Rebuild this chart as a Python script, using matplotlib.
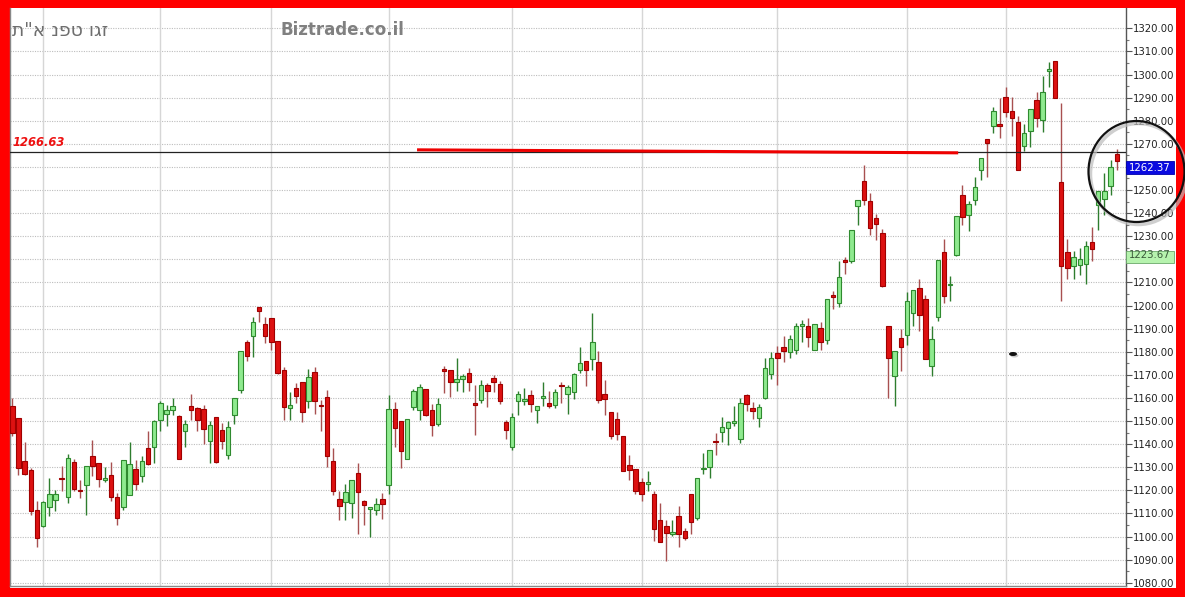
import matplotlib
matplotlib.use("Agg")
import matplotlib.pyplot as plt
import matplotlib.patches as mpatches
import matplotlib.transforms as mtransforms
import numpy as np

# ---------------- data ----------------
opens = [1156.3, 1151.3, 1132.7, 1129.0, 1111.4, 1104.5, 1112.8, 1115.8, 1125.5, 1117.0,
         1132.3, 1120.2, 1122.5, 1134.9, 1132.0, 1124.3, 1126.6, 1117.1, 1112.7, 1118.1,
         1129.2, 1126.1, 1138.2, 1138.7, 1150.6, 1153.2, 1154.6, 1152.3, 1145.5, 1156.6,
         1155.6, 1155.2, 1141.2, 1151.7, 1146.2, 1135.1, 1152.7, 1163.5, 1184.1, 1187.0,
         1199.3, 1192.1, 1194.4, 1184.7, 1172.0, 1155.5, 1164.3, 1167.0, 1158.5, 1171.3,
         1157.0, 1160.2, 1132.5, 1116.3, 1114.8, 1114.5, 1127.5, 1115.5, 1112.0, 1111.4,
         1116.3, 1122.2, 1155.2, 1149.9, 1133.6, 1156.0, 1154.9, 1163.8, 1154.9, 1148.8,
         1172.6, 1172.2, 1167.1, 1168.2, 1170.7, 1157.8, 1159.2, 1165.6, 1168.6, 1166.0,
         1149.4, 1138.6, 1158.5, 1158.8, 1161.4, 1154.6, 1160.0, 1157.8, 1157.1, 1165.6,
         1161.7, 1162.4, 1171.9, 1175.8, 1176.8, 1175.5, 1161.7, 1153.9, 1150.9, 1143.4,
         1131.1, 1129.2, 1123.5, 1122.9, 1118.6, 1107.3, 1104.5, 1101.2, 1108.8, 1102.4,
         1118.2, 1108.1, 1129.2, 1130.2, 1141.4, 1145.2, 1147.1, 1149.2, 1142.3, 1161.1,
         1155.8, 1151.4, 1160.0, 1170.5, 1179.5, 1182.1, 1180.0, 1180.6, 1191.3, 1191.0,
         1180.9, 1190.3, 1185.0, 1204.7, 1201.1, 1219.8, 1219.4, 1243.2, 1254.1, 1245.1,
         1237.9, 1231.3, 1191.3, 1169.7, 1186.0, 1187.4, 1196.8, 1207.6, 1202.8, 1173.7,
         1195.0, 1223.0, 1208.8, 1222.0, 1247.9, 1239.3, 1245.5, 1258.7, 1272.0, 1277.8,
         1278.6, 1290.1, 1284.0, 1279.6, 1269.1, 1275.6, 1289.0, 1280.3, 1301.4, 1306.0,
         1253.3, 1223.0, 1217.2, 1217.6, 1217.9, 1227.5, 1243.6, 1246.1, 1251.6, 1265.7]
highs = [1160.0, 1151.5, 1140.9, 1129.5, 1115.5, 1115.3, 1125.2, 1120.3, 1130.4, 1135.7,
         1133.6, 1124.6, 1130.4, 1141.8, 1132.0, 1130.1, 1132.3, 1118.9, 1133.1, 1140.9,
         1133.0, 1134.7, 1145.5, 1150.6, 1158.5, 1157.0, 1160.0, 1152.5, 1150.6, 1161.7,
         1156.2, 1157.0, 1149.8, 1151.8, 1149.1, 1149.8, 1160.0, 1180.5, 1185.2, 1195.2,
         1199.5, 1195.0, 1194.5, 1184.8, 1173.2, 1162.4, 1166.4, 1167.0, 1172.5, 1173.6,
         1159.2, 1163.5, 1138.2, 1119.9, 1122.9, 1124.3, 1131.8, 1115.6, 1112.9, 1116.7,
         1118.9, 1161.4, 1158.4, 1150.0, 1151.0, 1163.8, 1166.1, 1163.9, 1157.3, 1159.9,
         1173.9, 1172.3, 1177.2, 1170.5, 1172.9, 1165.7, 1167.9, 1166.4, 1170.0, 1167.4,
         1150.6, 1153.5, 1162.8, 1164.3, 1163.3, 1156.3, 1166.9, 1162.8, 1163.8, 1167.1,
         1165.7, 1171.0, 1182.0, 1175.8, 1196.7, 1180.4, 1167.9, 1153.9, 1153.7, 1143.5,
         1135.2, 1129.3, 1125.4, 1128.5, 1119.6, 1114.3, 1107.3, 1107.3, 1113.1, 1103.7,
         1118.2, 1125.4, 1136.2, 1137.3, 1144.9, 1151.8, 1150.0, 1156.7, 1160.0, 1161.5,
         1158.3, 1157.2, 1177.4, 1179.8, 1182.4, 1186.7, 1187.4, 1192.5, 1193.9, 1194.6,
         1192.2, 1192.7, 1203.0, 1206.2, 1219.4, 1221.0, 1232.8, 1245.5, 1260.8, 1248.6,
         1239.7, 1233.1, 1191.3, 1180.5, 1189.9, 1205.7, 1206.9, 1211.5, 1204.7, 1191.0,
         1219.5, 1228.8, 1212.6, 1238.9, 1252.3, 1245.1, 1255.6, 1263.8, 1272.0, 1286.1,
         1289.7, 1294.5, 1290.1, 1282.1, 1278.6, 1285.0, 1292.6, 1299.3, 1305.5, 1306.0,
         1287.8, 1228.8, 1223.4, 1224.9, 1227.8, 1234.0, 1249.4, 1257.3, 1262.8, 1267.7]
lows = [1143.4, 1126.8, 1126.5, 1109.5, 1095.4, 1104.0, 1108.8, 1110.9, 1119.6, 1114.5,
        1119.6, 1116.7, 1109.4, 1126.1, 1121.5, 1123.5, 1115.5, 1105.2, 1111.4, 1118.0,
        1120.0, 1123.5, 1130.8, 1131.8, 1145.5, 1148.0, 1152.7, 1133.5, 1138.7, 1150.3,
        1145.5, 1140.2, 1131.8, 1132.0, 1137.9, 1133.7, 1148.8, 1162.0, 1175.8, 1177.7,
        1192.8, 1183.7, 1180.8, 1170.5, 1150.3, 1150.6, 1157.8, 1149.4, 1155.6, 1153.2,
        1145.5, 1130.0, 1118.1, 1107.3, 1107.0, 1108.0, 1101.1, 1105.2, 1099.7, 1109.2,
        1107.6, 1118.6, 1138.8, 1129.7, 1133.5, 1154.6, 1150.6, 1152.3, 1143.4, 1148.0,
        1162.1, 1160.2, 1162.8, 1162.4, 1162.8, 1144.1, 1158.0, 1156.0, 1162.4, 1157.3,
        1142.2, 1137.6, 1152.7, 1157.1, 1153.7, 1149.1, 1156.3, 1155.6, 1155.6, 1157.8,
        1153.2, 1159.5, 1171.0, 1165.3, 1172.2, 1157.8, 1152.7, 1142.2, 1141.9, 1128.2,
        1124.6, 1118.2, 1115.3, 1119.6, 1098.0, 1097.5, 1089.3, 1100.1, 1095.5, 1098.7,
        1100.9, 1107.3, 1127.2, 1125.2, 1135.1, 1140.9, 1139.8, 1147.8, 1140.3, 1154.3,
        1151.0, 1147.5, 1159.6, 1168.2, 1165.8, 1175.5, 1177.4, 1179.2, 1184.1, 1182.1,
        1180.9, 1180.9, 1183.5, 1198.3, 1199.4, 1213.7, 1218.4, 1235.0, 1243.6, 1230.7,
        1228.2, 1208.2, 1160.0, 1156.7, 1171.6, 1183.1, 1191.3, 1188.9, 1176.8, 1169.7,
        1193.2, 1201.0, 1201.8, 1221.6, 1235.0, 1232.1, 1243.6, 1254.4, 1255.8, 1274.9,
        1272.4, 1281.5, 1273.2, 1258.6, 1267.1, 1268.8, 1277.2, 1275.2, 1294.8, 1289.7,
        1201.8, 1211.5, 1211.5, 1213.3, 1209.5, 1219.1, 1232.8, 1239.3, 1248.0, 1258.7]
closes = [1144.8, 1129.7, 1127.1, 1110.9, 1099.3, 1114.8, 1118.6, 1118.4, 1124.9, 1134.0,
          1120.6, 1119.7, 1130.4, 1130.5, 1124.8, 1125.3, 1117.1, 1108.0, 1133.1, 1131.4,
          1122.9, 1132.7, 1131.3, 1150.0, 1157.8, 1154.9, 1156.6, 1133.6, 1148.8, 1154.9,
          1150.3, 1146.5, 1148.3, 1132.1, 1141.2, 1147.4, 1159.9, 1180.1, 1178.0, 1192.8,
          1197.5, 1187.0, 1184.4, 1170.7, 1155.9, 1156.9, 1160.7, 1153.7, 1169.0, 1158.8,
          1156.6, 1135.0, 1119.6, 1113.1, 1119.1, 1124.3, 1119.3, 1113.8, 1112.8, 1114.1,
          1114.2, 1155.3, 1147.0, 1136.9, 1150.9, 1162.8, 1164.7, 1152.7, 1148.4, 1157.3,
          1171.6, 1166.7, 1168.3, 1169.6, 1166.7, 1157.1, 1165.4, 1162.8, 1167.0, 1158.5,
          1146.3, 1151.7, 1161.7, 1159.2, 1157.5, 1156.3, 1161.0, 1156.3, 1162.5, 1165.0,
          1164.7, 1170.2, 1175.1, 1171.9, 1184.0, 1158.9, 1159.7, 1143.4, 1144.5, 1128.5,
          1129.0, 1119.6, 1118.6, 1123.7, 1103.3, 1097.6, 1101.6, 1102.0, 1101.2, 1099.4,
          1106.3, 1125.4, 1129.8, 1137.3, 1140.8, 1147.5, 1149.6, 1150.2, 1157.9, 1157.5,
          1154.4, 1156.0, 1173.0, 1177.2, 1177.3, 1180.2, 1185.3, 1191.0, 1192.1, 1186.3,
          1192.2, 1184.2, 1202.9, 1203.7, 1212.2, 1218.7, 1232.8, 1245.5, 1245.5, 1233.5,
          1235.4, 1208.3, 1177.3, 1180.5, 1182.1, 1201.8, 1206.9, 1196.1, 1176.9, 1185.3,
          1219.5, 1204.3, 1209.2, 1238.9, 1238.5, 1244.0, 1251.5, 1263.8, 1270.5, 1284.3,
          1277.8, 1283.9, 1281.3, 1258.7, 1274.6, 1285.0, 1281.3, 1292.6, 1302.2, 1289.7,
          1217.2, 1216.2, 1221.2, 1220.1, 1225.6, 1224.5, 1249.4, 1249.4, 1259.9, 1262.37]

month_starts = [5, 24, 42, 61, 81, 102, 124, 145, 161]      # vertical grid (session index)
y_ticks = list(range(1080, 1321, 10))
ref_level = 1266.63            # horizontal reference line
trend_start, trend_end = (65.6, 1267.4), (153.3, 1266.1)   # hand-drawn red line (index, value)
last_price = 1262.37
other_level = 1223.67
title_text = 'ת"א נפט וגז'
site_text = "Biztrade.co.il"

# ---------------- figure ----------------
W, H = 1185, 597
fig = plt.figure(figsize=(W / 100, H / 100), dpi=100, facecolor="#ff0000")

def fx(px):
    return px / W

def fy(py):
    return 1 - py / H

# white panel inside red frame
fig.patches.append(mpatches.Rectangle((fx(10), fy(588)), fx(1176) - fx(10), fy(8) - fy(588),
                                      transform=fig.transFigure, facecolor="white",
                                      edgecolor="none", zorder=-5))

ax = fig.add_axes([fx(10), fy(585.5), fx(1125.7) - fx(10), fy(8) - fy(585.5)])
ax.set_facecolor("white")
ax.set_zorder(1)

n = len(opens)
x = np.arange(n)
o = np.array(opens); h = np.array(highs); l = np.array(lows); c = np.array(closes)
up = c >= o

ax.set_xlim(-0.37, 180.45)
ax.set_ylim(1078.8, 1328.8)

# grid
for yt in y_ticks:
    ax.axhline(yt, color="#bdbdbd", lw=0.8, ls=(0, (1, 1.2)), zorder=0.5)
for ms in month_starts:
    ax.axvline(ms, color="#d6d6d6", lw=1.0, zorder=0.5)

# wicks
wick_cols = np.where(up, "#2e7d2e", "#a85050")
ax.vlines(x, l, h, colors=list(wick_cols), lw=1.0, zorder=2)

# bodies
bottoms = np.minimum(o, c)
heights = np.maximum(np.abs(c - o), 0.55)
fills = np.where(up, "#8fea8f", "#dd1111")
edges = np.where(up, "#2f8a2f", "#a00000")
ax.bar(x, heights, bottom=bottoms, width=0.72, color=list(fills), edgecolor=list(edges),
       linewidth=0.8, zorder=3)

# reference line + label
ax.axhline(ref_level, color="#222222", lw=0.9, zorder=4)
blend = mtransforms.blended_transform_factory(ax.transAxes, ax.transData)
ax.text(0.002, ref_level + 1.3, f"{ref_level:.2f}", transform=blend, color="#ee1111",
        fontsize=8.3, fontstyle="italic", fontweight="bold", va="bottom", ha="left", zorder=5)

# hand-drawn red line
ax.plot([trend_start[0], trend_end[0]], [trend_start[1], trend_end[1]], color="#ee0000",
        lw=2.2, solid_capstyle="butt", zorder=4)

# axis styling (labels hidden under the price boxes are left blank, as in the reference)
covered = {1260, 1220}
ax.yaxis.tick_right()
ax.set_yticks(y_ticks)
ax.set_yticklabels(["" if v in covered else f"{v:.2f}" for v in y_ticks])
ax.set_yticks(np.arange(1085, 1321, 10), minor=True)
ax.tick_params(axis="y", which="major", length=4, width=0.8, color="#555555",
               labelsize=7.3, pad=1.5, labelcolor="#222222")
ax.tick_params(axis="y", which="minor", length=2, width=0.8, color="#777777")
ax.set_xticks([])
ax.spines["top"].set_visible(False)
ax.spines["right"].set_color("#555555")
ax.spines["left"].set_color("#888888")
ax.spines["bottom"].set_color("#888888")
for s in ["right", "left", "bottom"]:
    ax.spines[s].set_linewidth(1.0)

# price boxes at the right axis
box_w = (1174 - 10) / (1125.7 - 10)
box_h_units = 12.3 / 2.3125
ax.add_patch(mpatches.Rectangle((1.0, last_price - box_h_units), box_w - 1.0, box_h_units,
                                transform=blend, facecolor="#0a0ae0", edgecolor="#0000aa",
                                lw=0.6, clip_on=False, zorder=6))
ax.text(1.0 + (box_w - 1.0) / 2, last_price - box_h_units / 2, f"{last_price:.2f}",
        transform=blend, color="white", fontsize=7.3, ha="center", va="center",
        clip_on=False, zorder=7)
ax.add_patch(mpatches.Rectangle((1.0, other_level - box_h_units), box_w - 1.0, box_h_units,
                                transform=blend, facecolor="#b6f3ae", edgecolor="#6aa86a",
                                lw=0.6, clip_on=False, zorder=6))
ax.text(1.0 + (box_w - 1.0) / 2, other_level - box_h_units / 2 + 0.8, f"{other_level:.2f}",
        transform=blend, color="#3a5a3a", fontsize=7.3, ha="center", va="center",
        clip_on=False, zorder=7)

# titles
fig.text(fx(12), fy(30), title_text, color="#6e6e6e", fontsize=13.5,
         ha="left", va="center", family=["DejaVu Sans"], zorder=3)
fig.text(fx(280), fy(30), site_text, color="#808080", fontsize=12, fontweight="bold",
         ha="left", va="center", zorder=3)

# hand-drawn circle with soft shadow
shadow = mpatches.Ellipse((fx(1138.5), fy(174)), fx(96), fx(101) * W / H, transform=fig.transFigure,
                          facecolor="none", edgecolor="#bbbbbb", lw=2.5, alpha=0.7, zorder=9)
circle = mpatches.Ellipse((fx(1136.5), fy(171.5)), fx(96), fx(101) * W / H, transform=fig.transFigure,
                          facecolor="none", edgecolor="#111111", lw=1.6, zorder=10)
fig.patches.extend([shadow, circle])

# small cursor blob
fig.patches.append(mpatches.Ellipse((fx(1014.5), fy(355.5)), fx(8), fx(4) * W / H,
                                    transform=fig.transFigure, facecolor="#cccccc",
                                    edgecolor="none", zorder=9))
fig.patches.append(mpatches.Ellipse((fx(1013), fy(354)), fx(8), fx(4) * W / H,
                                    transform=fig.transFigure, facecolor="#111111",
                                    edgecolor="none", zorder=10))

fig.savefig("out.png", dpi=100, facecolor=fig.get_facecolor())
